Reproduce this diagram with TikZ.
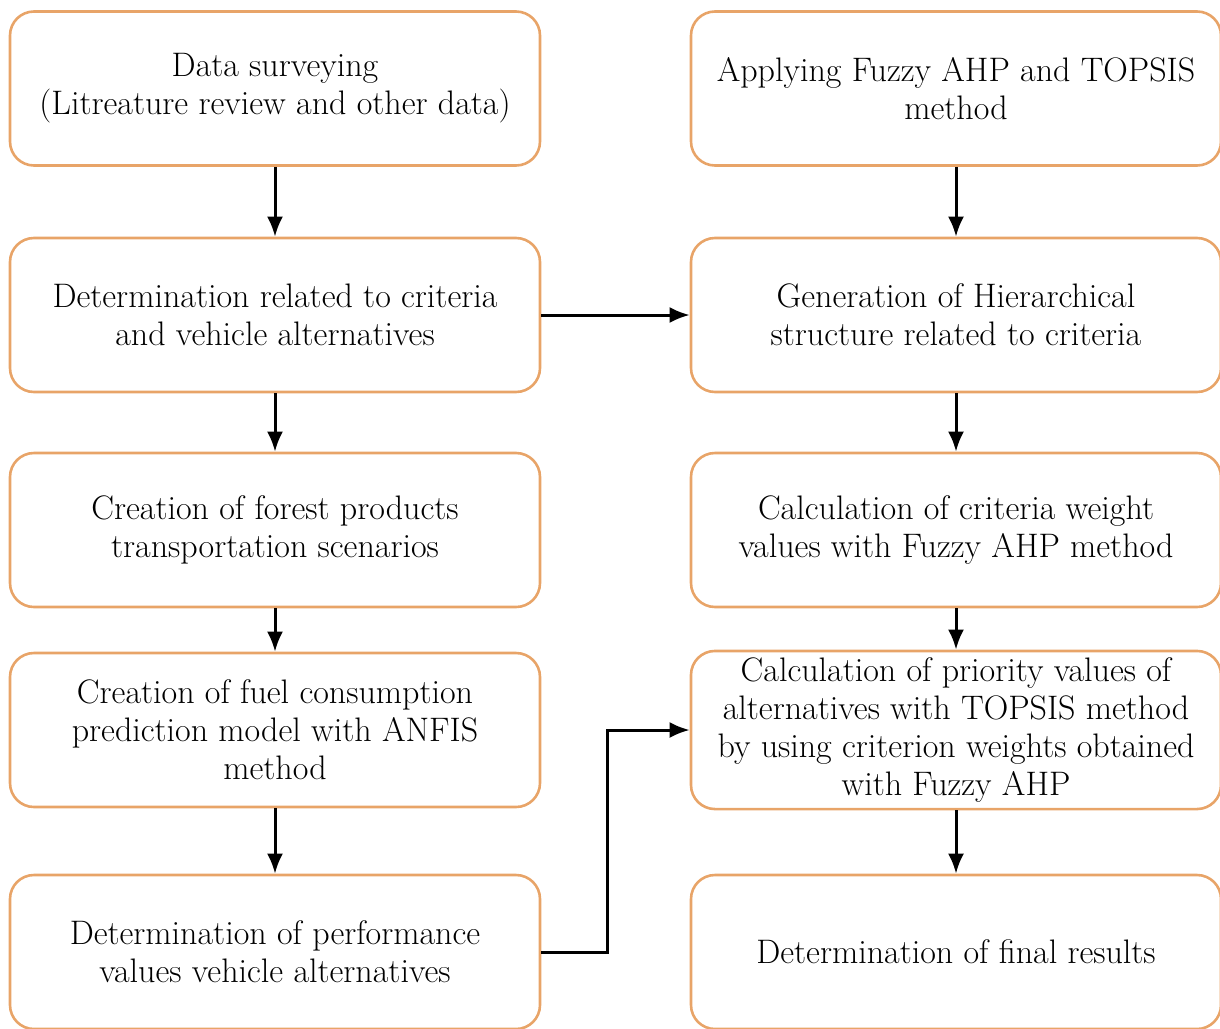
\documentclass[tikz,border=0pt]{standalone}
\usetikzlibrary{arrows.meta}
\definecolor{boxorange}{RGB}{232,164,104}

\begin{document}
\begin{tikzpicture}[x=1pt,y=1pt,
  stepbox/.style={draw=boxorange,line width=1.3pt,rounded corners=12pt,
    minimum width=265pt,minimum height=77pt,align=center,
    font=\fontsize{17}{19}\selectfont},
  flow/.style={line width=1.5pt,-{Latex[length=10pt,width=8pt]}}]
\useasboundingbox (0,0) rectangle (610,-514);

% left column
\node[stepbox] (l1) at (137.5,-44.25) {Data surveying\\(Litreature review and other data)};
\node[stepbox] (l2) at (137.5,-157.5) {Determination related to criteria\\and vehicle alternatives};
\node[stepbox] (l3) at (137.5,-265) {Creation of forest products\\transportation scenarios};
\node[stepbox] (l4) at (137.5,-365) {Creation of fuel consumption\\prediction model with ANFIS\\method};
\node[stepbox] (l5) at (137.5,-476) {Determination of performance\\values vehicle alternatives};

% right column
\node[stepbox] (r1) at (478,-44.25) {Applying Fuzzy AHP and TOPSIS\\method};
\node[stepbox] (r2) at (478,-157.5) {Generation of Hierarchical\\structure related to criteria};
\node[stepbox] (r3) at (478,-265) {Calculation of criteria weight\\values with Fuzzy AHP method};
\node[stepbox] (r4) at (478,-365) {Calculation of priority values of\\alternatives with TOPSIS method\\by using criterion weights obtained\\with Fuzzy AHP};
\node[stepbox] (r5) at (478,-476) {Determination of final results};

\coordinate (bend) at (303.5,-476);

\draw[flow] (l1) -- (l2);
\draw[flow] (l2) -- (l3);
\draw[flow] (l3) -- (l4);
\draw[flow] (l4) -- (l5);
\draw[flow] (l2) -- (r2);
\draw[flow] (l5.east) -- (bend) |- (r4.west);

\draw[flow] (r1) -- (r2);
\draw[flow] (r2) -- (r3);
\draw[flow] (r3) -- (r4);
\draw[flow] (r4) -- (r5);
\end{tikzpicture}
\end{document}
